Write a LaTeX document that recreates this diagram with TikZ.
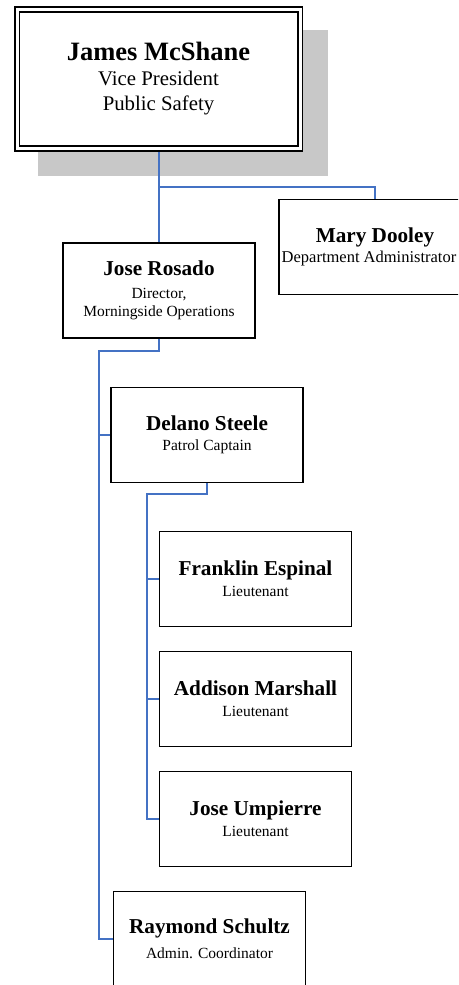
\documentclass[tikz,border=0pt]{standalone}
\usepackage{fontspec}
\setmainfont{Liberation Serif}
\definecolor{linkblue}{HTML}{4472C4}
\definecolor{shadowgray}{HTML}{C8C8C8}
\newcommand{\who}[1]{{\bfseries\fontsize{21.2}{21}\selectfont #1}}
\begin{document}
\begin{tikzpicture}[x=1pt, y=-1pt,
    post/.style={draw=black, line width=1.3pt, fill=white, minimum width=192pt,
      minimum height=95pt, inner sep=0pt, align=center,
      font=\fontsize{15.5}{17.5}\selectfont},
    link/.style={draw=linkblue, line width=1.9pt}]
    \useasboundingbox (0,0) rectangle (458,985);
    \clip (0,0) rectangle (458,985);
    % Shadow behind the top box
    \fill[shadowgray] (38,30) rectangle (328,176);
    % Top box
    \node[post, double, line width=1.8pt, double distance=3pt, outer sep=3.3pt,
      minimum width=283pt, minimum height=139pt,
      font=\fontsize{20.8}{25}\selectfont] (vp) at (158.5,79)
      {{\bfseries\fontsize{26.5}{25}\selectfont James McShane}\\Vice President\\Public Safety};
    % Second level
    \node[post, font=\fontsize{16.5}{20}\selectfont] (mary) at (375,247)
      {\who{Mary Dooley}\\Department Administrator\hspace*{12pt}};
    \node[post] (rosado) at (159,290.5)
      {\who{Jose Rosado}\\[5.5pt]Director,\\Morningside Operations};
    % Under the director
    \node[post] (steele) at (207,435) {\who{Delano Steele}\\[2.5pt]Patrol Captain};
    \node[post] (schultz) at (209.5,939) {\who{Raymond Schultz}\\[7.5pt]Admin. Coordinator};
    % Lieutenants
    \node[post] (espinal) at (255.5,579) {\who{Franklin Espinal}\\[3.5pt]Lieutenant};
    \node[post] (marshall) at (255.5,699) {\who{Addison Marshall}\\[3.5pt]Lieutenant};
    \node[post] (umpierre) at (255.5,819) {\who{Jose Umpierre}\\[3.5pt]Lieutenant};
    % Connectors
    \coordinate (vpbus) at (159,187);
    \draw[link] (rosado.north |- vp.south) -- (rosado.north);
    \draw[link] (vpbus) -| (mary.north);
    \coordinate (dirbus) at (99,351);
    \draw[link] (rosado.south) |- (dirbus) |- (schultz.west);
    \draw[link] (dirbus) |- (steele.west);
    \coordinate (capbus) at (147,494);
    \draw[link] (steele.south) |- (capbus) |- (umpierre.west);
    \draw[link] (capbus) |- (espinal.west);
    \draw[link] (capbus) |- (marshall.west);
\end{tikzpicture}
\end{document}
